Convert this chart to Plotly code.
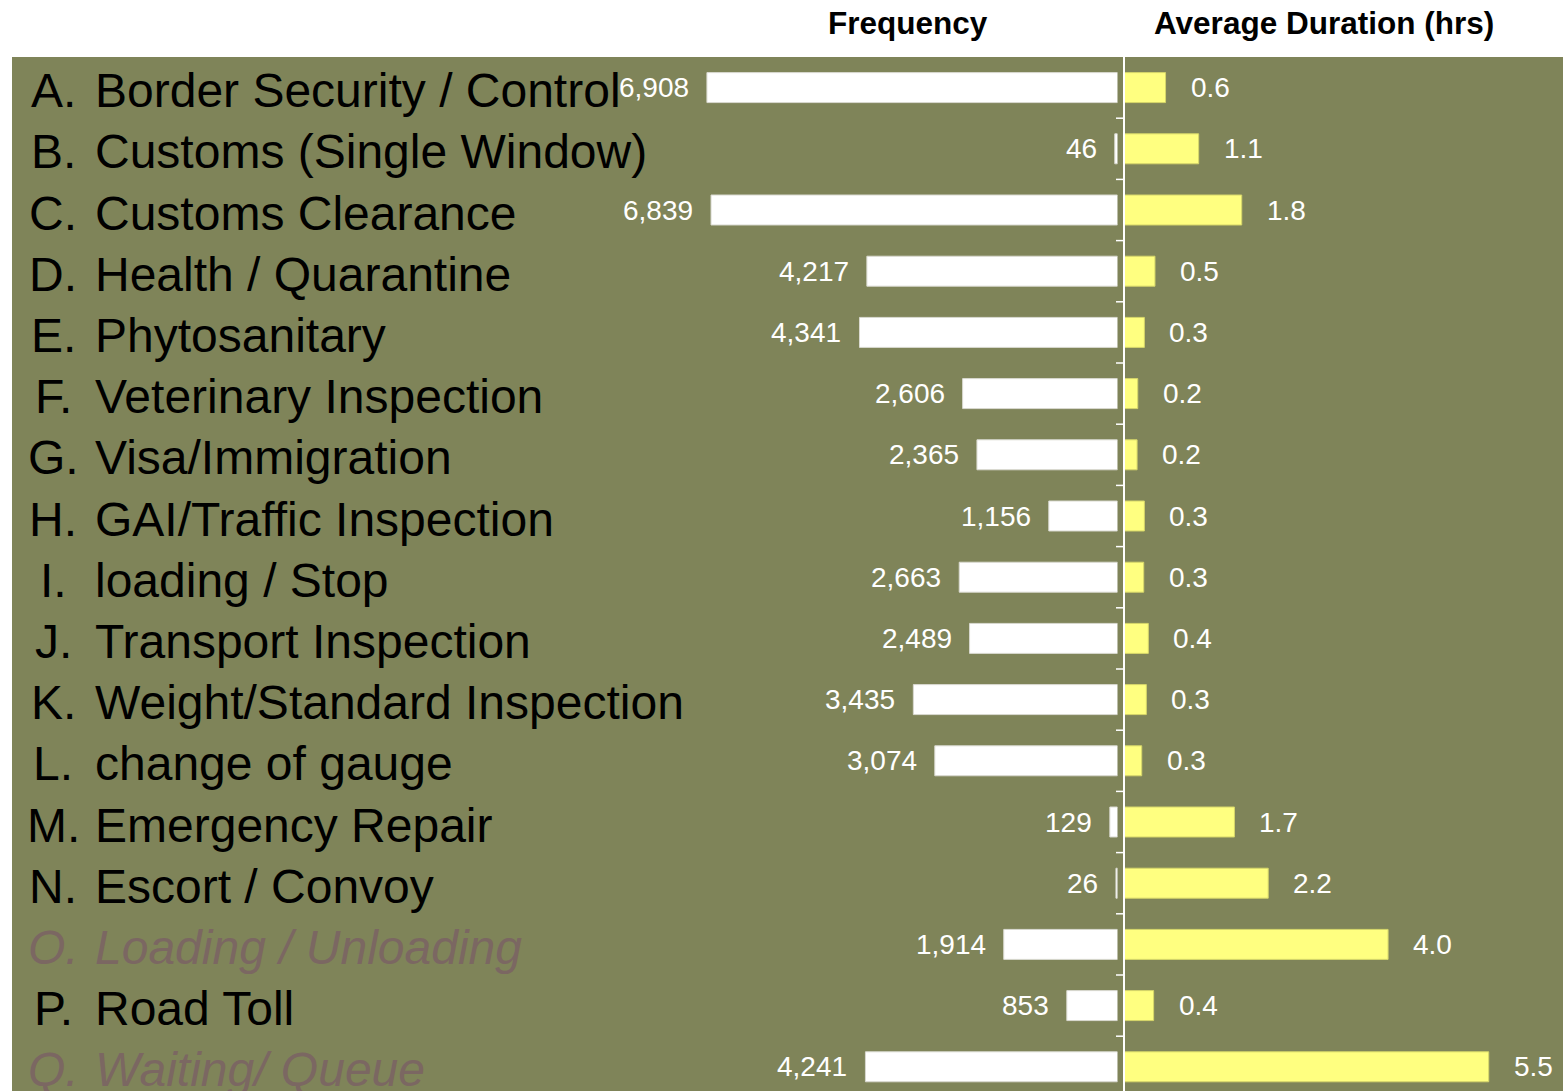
import plotly.graph_objects as go

letters = ["A", "B", "C", "D", "E", "F", "G", "H", "I", "J", "K", "L", "M", "N", "O", "P", "Q"]
names = [
    "Border Security / Control", "Customs (Single Window)", "Customs Clearance",
    "Health / Quarantine", "Phytosanitary", "Veterinary Inspection", "Visa/Immigration",
    "GAI/Traffic Inspection", "loading / Stop", "Transport Inspection",
    "Weight/Standard Inspection", "change of gauge", "Emergency Repair",
    "Escort / Convoy", "Loading / Unloading", "Road Toll", "Waiting/ Queue",
]
frequency = [6908, 46, 6839, 4217, 4341, 2606, 2365, 1156, 2663, 2489, 3435, 3074, 129, 26, 1914, 853, 4241]
duration = [0.62, 1.12, 1.77, 0.46, 0.30, 0.20, 0.19, 0.30, 0.29, 0.36, 0.33, 0.26, 1.66, 2.17, 3.98, 0.44, 5.5]
muted = {"O", "Q"}

OFF = 0  # body margin removed by post_script
W, H = 1563 - OFF, 1091 - OFF
ML, MT = 12 - OFF, 57 - OFF
PW, PH = W - ML, H - MT
BG = "#7f8459"
FONT = "Liberation Sans, Arial, sans-serif"

def px(xpix):
    # page pixel -> paper fraction
    return (xpix - OFF - ML) / PW

n = len(names)
idx = list(range(n))
row_h = 61.2
y_bottom = -0.5 + PH / row_h

fig = go.Figure()
fig.add_trace(go.Bar(
    x=frequency, y=idx, orientation="h", xaxis="x", yaxis="y",
    marker=dict(color="#ffffff", line=dict(color="#d9d9d0", width=1)),
    width=0.49, hoverinfo="x",
))
fig.add_trace(go.Bar(
    x=duration, y=idx, orientation="h", xaxis="x2", yaxis="y",
    marker=dict(color="#ffff80", line=dict(color="#d6d66a", width=1)),
    width=0.49, hoverinfo="x",
))

annotations = []
for i in idx:
    annotations.append(dict(
        x=frequency[i], y=i, xref="x", yref="y", text=f"{frequency[i]:,}",
        showarrow=False, xanchor="right", yanchor="middle", xshift=-16,
        font=dict(family=FONT, size=28, color="white"),
    ))
    annotations.append(dict(
        x=duration[i], y=i, xref="x2", yref="y", text=f"{duration[i]:.1f}",
        showarrow=False, xanchor="left", yanchor="middle", xshift=23,
        font=dict(family=FONT, size=28, color="white"),
    ))
    is_muted = letters[i] in muted
    col = "#7b6762" if is_muted else "#000000"
    style = "italic" if is_muted else "normal"
    annotations.append(dict(
        x=px(53), y=i, xref="paper", yref="y", text=f"{letters[i]}.",
        showarrow=False, xanchor="center", yanchor="middle", yshift=-3,
        font=dict(family=FONT, size=48, color=col, style=style),
    ))
    annotations.append(dict(
        x=px(93), y=i, xref="paper", yref="y", text=names[i],
        showarrow=False, xanchor="left", yanchor="middle", yshift=-3,
        font=dict(family=FONT, size=48, color=col, style=style),
    ))

hdr_y = 1 + (57 - 23) / PH
annotations.append(dict(
    x=px(908), y=hdr_y, xref="paper", yref="paper", text="<b>Frequency</b>",
    showarrow=False, xanchor="center", yanchor="middle",
    font=dict(family=FONT, size=31.5, color="black"),
))
annotations.append(dict(
    x=px(1324), y=hdr_y, xref="paper", yref="paper",
    text="<b>Average Duration (hrs)</b>",
    showarrow=False, xanchor="center", yanchor="middle",
    font=dict(family=FONT, size=31.5, color="black"),
))

shapes = []
for b in range(n):
    yb = b + 0.5
    shapes.append(dict(type="line", xref="paper", yref="y", x0=0, x1=1, y0=yb, y1=yb,
                       line=dict(color="#2a2a20", width=1, dash="dot"), layer="below"))
    shapes.append(dict(type="line", xref="paper", yref="y", x0=px(1116), x1=px(1124), y0=yb, y1=yb,
                       line=dict(color="white", width=1.5), layer="above"))
shapes.append(dict(type="line", xref="paper", yref="paper", x0=px(1124), x1=px(1124), y0=0, y1=1,
                   line=dict(color="white", width=2), layer="above"))

fig.update_layout(
    width=W, height=H,
    margin=dict(l=ML, r=0, t=MT, b=0),
    paper_bgcolor="white", plot_bgcolor=BG,
    showlegend=False, barmode="overlay",
    xaxis=dict(domain=[0, px(1117.5)], range=[18600, 0], visible=False, fixedrange=True),
    xaxis2=dict(domain=[px(1124.5), 1], range=[0, 439 / 66.3], anchor="y",
                visible=False, fixedrange=True),
    yaxis=dict(range=[y_bottom, -0.5], visible=False, fixedrange=True),
    annotations=annotations, shapes=shapes,
)
fig.add_shape(type="rect", xref="paper", yref="paper", x0=0, x1=1, y0=0, y1=1,
              fillcolor=BG, line=dict(width=0), layer="below")

fig.write_html(
    "out.html",
    config={"displayModeBar": False},
    post_script=(
        "document.documentElement.style.margin='0';"
        "document.documentElement.style.overflow='hidden';"
        "document.body.style.margin='0';"
        "document.body.style.overflow='hidden';"
    ),
)
